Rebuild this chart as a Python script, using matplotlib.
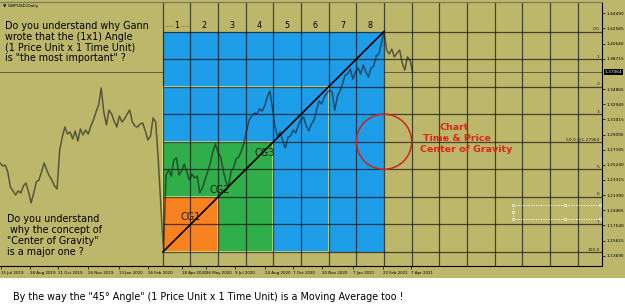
import matplotlib
matplotlib.use("Agg")
import matplotlib.pyplot as plt
import matplotlib.dates as mdates
import matplotlib.transforms as mtransforms
from matplotlib.patches import Rectangle, Ellipse
import pandas as pd

# GBPUSD daily closes, one value every 4 days
first_day = "2019-07-13"
close = [
    1.2547, 1.2509, 1.2521, 1.2433, 1.2242, 1.2191, 1.2140, 1.2191, 1.2166, 1.2255,
    1.2293, 1.2178, 1.2039, 1.2166, 1.2306, 1.2331, 1.2433, 1.2547, 1.2458, 1.2382,
    1.2331, 1.2255, 1.2217, 1.2712, 1.2877, 1.3004, 1.2915, 1.2941, 1.2852, 1.2954,
    1.2826, 1.2979, 1.2903, 1.2966, 1.2915, 1.3017, 1.3093, 1.3195, 1.3284, 1.3500,
    1.3195, 1.3030, 1.3220, 1.3169, 1.3080, 1.3004, 1.3144, 1.3068, 1.3106, 1.3169,
    1.3220, 1.3068, 1.3017, 1.3004, 1.3042, 1.3055, 1.2954, 1.2839, 1.2890, 1.3119,
    1.3068, 1.2585, 1.2013, 1.1425, 1.2395, 1.2458, 1.2382, 1.2585, 1.2611, 1.2394,
    1.2445, 1.2534, 1.2433, 1.2331, 1.2407, 1.2356, 1.2382, 1.2166, 1.2229, 1.2331,
    1.2433, 1.2547, 1.2687, 1.2788, 1.2687, 1.2623, 1.2458, 1.2318, 1.2242, 1.2433,
    1.2484, 1.2598, 1.2623, 1.2699, 1.2801, 1.2954, 1.3093, 1.3144, 1.3182, 1.3169,
    1.3233, 1.3207, 1.3271, 1.3386, 1.3462, 1.3246, 1.3004, 1.2877, 1.2941, 1.2826,
    1.2738, 1.2877, 1.2890, 1.2966, 1.2928, 1.3030, 1.3106, 1.3131, 1.3017, 1.2954,
    1.3042, 1.3093, 1.3220, 1.3335, 1.3297, 1.3386, 1.3436, 1.3474, 1.3449, 1.3220,
    1.3386, 1.3462, 1.3551, 1.3665, 1.3678, 1.3741, 1.3614, 1.3703, 1.3754, 1.3678,
    1.3792, 1.3703, 1.3640, 1.3754, 1.3779, 1.3907, 1.3932, 1.4072, 1.4211, 1.3983,
    1.3932, 1.3995, 1.3894, 1.3945, 1.3983, 1.3817, 1.3729, 1.3894, 1.3856, 1.3706,
]
last_price = 1.37064

# Gann box from the March 2020 low to the February 2021 high
box_start, box_end = "2020-03-20", "2021-02-24"
box_low, box_high = 1.1416, 1.4218
divisions = 8
extra_columns = 7
time_labels = ["1", "2", "3", "4", "5", "6", "7", "8"]
level_labels = ["0.0", "1", "2", "3", "50.0 @1.27964", "5", "6", "7", "100.0"]
cg_names = ["CG1", "CG2", "CG3"]

price_ticks = [1.44490, 1.42565, 1.40640, 1.38715, 1.34865, 1.32940, 1.31015,
               1.29090, 1.27165, 1.25240, 1.23315, 1.21390, 1.19465, 1.17540,
               1.15615, 1.13690]
date_ticks = ["2019-07-15", "2019-08-28", "2019-10-11", "2019-11-26", "2020-01-13",
              "2020-02-26", "2020-04-18", "2020-05-26", "2020-07-09", "2020-08-24",
              "2020-10-07", "2020-11-20", "2021-01-07", "2021-02-22", "2021-04-07"]

OLIVE = "#BDB76B"
BLUE = "#1E9DE8"
GREEN = "#2FAE4A"
ORANGE = "#F7821F"
PALE = "#EEF08A"
RED = "#E0251E"

W, H = 625, 306


def fx(px):
    return px / W


def fy(py):
    return 1 - py / H


fig = plt.figure(figsize=(W / 100, H / 100), dpi=100, facecolor="white")
fig.patches.append(Rectangle((0, fy(278)), 1, 1 - fy(278), transform=fig.transFigure,
                             facecolor=OLIVE, edgecolor="none", zorder=-10))
ax = fig.add_axes([0, fy(266), fx(602), (266 - 2) / H])
ax.set_facecolor(OLIVE)

dates = pd.date_range(first_day, periods=len(close), freq="4D")
xs = mdates.date2num(dates.to_pydatetime())
x0 = mdates.date2num(pd.Timestamp(box_start).to_pydatetime())
x1 = mdates.date2num(pd.Timestamp(box_end).to_pydatetime())
ut = (x1 - x0) / divisions
up = (box_high - box_low) / divisions

xlim = (mdates.date2num(pd.Timestamp("2019-07-13").to_pydatetime()),
        mdates.date2num(pd.Timestamp("2022-01-26").to_pydatetime()))
ylim = (1.1238, 1.4593)
ax.set_xlim(xlim)
ax.set_ylim(ylim)

# bid line
ax.axhline(last_price, color="#5e5c48", lw=0.7, zorder=0.5)

# squares
ax.add_patch(Rectangle((x0, box_low), divisions * ut, divisions * up,
                       facecolor=BLUE, edgecolor="none", zorder=1))
for size, face, z in [(6, "none", 1.3), (4, GREEN, 1.4), (2, ORANGE, 1.5)]:
    ax.add_patch(Rectangle((x0, box_low), size * ut, size * up, facecolor=face,
                           edgecolor=PALE, lw=1.1, zorder=z))

# gann grid
for k in range(divisions + extra_columns + 1):
    ax.axvline(x0 + k * ut, color="#111111", lw=0.9, alpha=0.7, zorder=2)
levels = [box_high - k * up for k in range(divisions + 1)]
ax.hlines(levels, x0, xlim[1], color="#111111", lw=0.9, alpha=0.7, zorder=2)

# price
ax.plot(xs, close, color="#1a1a1a", lw=1.1, alpha=0.62, zorder=2.5)

# 1x1 angle
ax.plot([x0, x1], [box_low, box_high], color="black", lw=1.2, zorder=3)

ax.add_patch(Ellipse((x1, (box_low + box_high) / 2), 2 * ut, 2 * up, facecolor="none",
                     edgecolor="#CC2424", lw=1.1, zorder=3))

for k, lab in enumerate(time_labels):
    ax.text(x0 + (k + 0.5) * ut, box_high + 0.2 * up, lab, ha="center", va="center",
            fontsize=5.8, zorder=4)
ax.plot([x0 + 0.08 * ut, x0 + 0.35 * ut], [box_high + 0.2 * up] * 2, color="#666655",
        ls=(0, (1, 1.2)), lw=0.6, zorder=3.5)
ax.plot([x0 + 0.65 * ut, x0 + 0.95 * ut], [box_high + 0.2 * up] * 2, color="#666655",
        ls=(0, (1, 1.2)), lw=0.6, zorder=3.5)

cg_pos = [(1.0, 1.28), (2.07, 2.25), (3.68, 3.59)]
for name, (u, v) in zip(cg_names, cg_pos):
    ax.text(x0 + u * ut, box_low + v * up, name, ha="center", va="center",
            fontsize=7, color="#1c1c1c", zorder=4)

right = mtransforms.blended_transform_factory(ax.transAxes, ax.transData)
for lev, lab in zip(levels, level_labels):
    ax.text(0.996, lev + 0.0005, lab, transform=right, ha="right", va="bottom",
            fontsize=3.2, color="#222222", zorder=4)

ax.text(1.004, last_price, "1.37064", transform=right, ha="left", va="center",
        fontsize=3.1, color="white", zorder=5, clip_on=False,
        bbox=dict(boxstyle="square,pad=0.2", fc="black", ec="none"))

# selected object on the right
yA, yB, xL, xM, xR = 0.231, 0.178, 0.852, 0.9385, 0.9967
for yy in (yA, yB):
    ax.plot([xL, xR], [yy, yy], transform=ax.transAxes, color="white", lw=0.6,
            ls=(0, (1.5, 1.5)), zorder=3)
ax.plot([xL, xL], [yB, yA], transform=ax.transAxes, color="white", lw=0.6,
        ls=(0, (1.5, 1.5)), zorder=3)
ax.plot([xL, xM, xR, xL, xM, xR, xL], [yA, yA, yA, yB, yB, yB, (yA + yB) / 2],
        transform=ax.transAxes, ls="none", marker="s", ms=1.6, mfc=OLIVE, mec="white",
        mew=0.4, zorder=3.2)

# axes
ax.yaxis.tick_right()
ax.set_yticks(price_ticks)
ax.set_yticklabels([f"{p:.5f}" for p in price_ticks])
dt = [pd.Timestamp(d) for d in date_ticks]
ax.set_xticks(mdates.date2num([d.to_pydatetime() for d in dt]))
ax.set_xticklabels([f"{d.day} {d:%b %Y}" for d in dt], ha="left")
ax.tick_params(axis="y", labelsize=3.1, length=2, width=0.5, pad=1)
ax.tick_params(axis="x", labelsize=2.9, length=2, width=0.5, pad=1.8)
ax.spines["left"].set_visible(False)
ax.spines["top"].set_color("#777766")
for s in ("right", "bottom", "top"):
    ax.spines[s].set_linewidth(0.8)

# texts
fig.text(fx(3), fy(5.5), "\u25bc GBPUSD,Daily", fontsize=3.2, va="center", ha="left")
fig.text(fx(5), fy(42), 'Do you understand why Gann\nwrote that the (1x1) Angle\n'
         '(1 Price Unit x 1 Time Unit)\nis "the most important" ?',
         fontsize=6.9, va="center", ha="left", linespacing=1.12)
fig.text(fx(7), fy(235.5), 'Do you understand\n why the concept of\n'
         '"Center of Gravity"\nis a major one ?',
         fontsize=6.9, va="center", ha="left", linespacing=1.12)
for txt, cx, cy in [("Chart", 454.5, 127), ("Time & Price", 457, 138.5),
                    ("Center of Gravity", 466, 150)]:
    fig.text(fx(cx), fy(cy), txt, fontsize=6.8, fontweight="bold", color=RED,
             ha="center", va="center")
fig.text(fx(13), fy(297), 'By the way the "45\u00b0 Angle" (1 Price Unit x 1 Time Unit) '
         'is a Moving Average too !', fontsize=6.9, va="center", ha="left")

fig.savefig("out.png", dpi=100)
